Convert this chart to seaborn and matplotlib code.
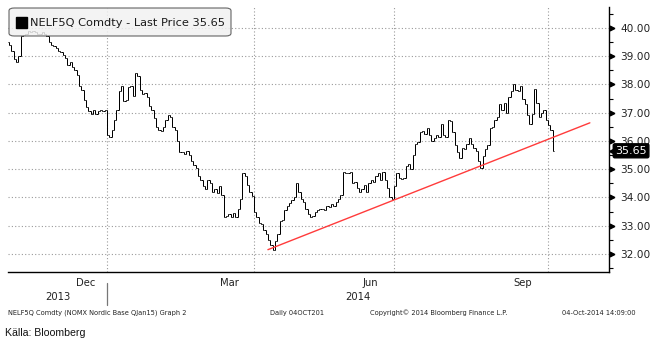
import numpy as np
import pandas as pd
import matplotlib
matplotlib.use("Agg")
import matplotlib.pyplot as plt
import matplotlib.transforms as mtransforms
from matplotlib.patches import FancyBboxPatch, Rectangle
import seaborn as sns

# ---- daily closing prices (EUR/MWh), one list per month ----
close_2013_10 = [39.4, 39.2, 38.9]
close_2013_11 = [38.8, 39.0, 39.7, 39.75, 39.8, 39.9, 39.85, 39.9, 39.85, 39.8, 39.8,
                 39.85, 39.8, 39.7, 39.5, 39.4, 39.35, 39.3, 39.2, 39.15, 39.05]
close_2013_12 = [38.95, 38.7, 38.8, 38.6, 38.5, 38.35, 37.95, 37.8, 37.45, 37.2, 37.05,
                 36.95, 37.1, 36.95, 37.05, 37.1, 37.05, 37.1]
close_2014_01 = [36.2, 36.15, 36.4, 36.75, 37.1, 37.75, 37.95, 37.4, 37.45, 37.9, 37.95,
                 37.6, 38.4, 38.3, 37.8, 37.65, 37.7, 37.55, 37.25, 37.1, 36.8, 36.5]
close_2014_02 = [36.4, 36.35, 36.5, 36.75, 36.9, 36.85, 36.5, 36.4, 36.0, 35.6, 35.6,
                 35.55, 35.65, 35.5, 35.3, 35.15, 35.05, 34.75, 34.6, 34.4]
close_2014_03 = [34.3, 34.6, 34.5, 34.2, 34.3, 34.15, 34.4, 34.1, 33.3, 33.35, 33.4,
                 33.3, 33.45, 33.3, 33.6, 33.95, 34.85, 34.75, 34.45, 34.2, 34.05]
close_2014_04 = [33.5, 33.3, 33.1, 33.05, 32.85, 32.7, 32.5, 32.3, 32.15, 32.45, 32.7,
                 33.15, 33.2, 33.55, 33.7, 33.8, 33.9, 34.0, 34.5, 34.2]
close_2014_05 = [33.95, 33.85, 33.6, 33.4, 33.3, 33.35, 33.5, 33.55, 33.6, 33.6, 33.55,
                 33.7, 33.65, 33.75, 33.7, 33.85, 33.95, 34.1, 34.9, 34.85]
close_2014_06 = [34.85, 34.9, 34.5, 34.55, 34.35, 34.2, 34.3, 34.45, 34.2, 34.5, 34.6,
                 34.55, 34.75, 34.85, 34.6, 34.9, 34.6, 34.35, 34.0, 33.95]
close_2014_07 = [34.4, 34.85, 34.7, 34.65, 34.7, 35.1, 35.2, 35.0, 35.5, 35.9, 35.95,
                 36.3, 36.35, 36.25, 36.45, 36.2, 36.0, 36.1, 36.2, 36.15, 36.6, 36.2, 36.15]
close_2014_08 = [36.75, 36.7, 36.3, 35.85, 35.6, 35.4, 35.75, 35.7, 35.9, 36.1, 35.9,
                 35.75, 35.65, 35.3, 35.05, 35.45, 35.7, 35.85, 36.45, 36.5, 36.75]
close_2014_09 = [36.85, 37.3, 37.1, 37.35, 37.0, 37.55, 37.75, 38.0, 37.8, 37.75, 37.95,
                 37.5, 37.3, 36.9, 36.6, 36.95, 37.85, 37.35, 36.85, 37.0, 37.1, 36.75]
close_2014_10 = [36.55, 36.4, 35.65]
first_open = 39.5

# exchange holidays removed from the weekday calendar
holidays = ["2013-12-24", "2013-12-25", "2013-12-26", "2013-12-31", "2014-01-01",
            "2014-04-18", "2014-04-21", "2014-05-01", "2014-05-29", "2014-06-09"]

# support line drawn on the chart
trend_dates = ["2014-04-09", "2014-10-27"]
trend_values = [32.15, 36.64]

y_ticks = [32, 33, 34, 35, 36, 37, 38, 39, 40]
quarter_months = ["2014-01", "2014-04", "2014-07", "2014-10"]
month_labels = {"2013-12": "Dec", "2014-03": "Mar", "2014-06": "Jun", "2014-09": "Sep"}
last_price = 35.65
ticker = "NELF5Q Comdty"

# ---- trading-day calendar ----
days = pd.bdate_range("2013-10-29", "2014-11-28")
days = days[~days.isin(pd.to_datetime(holidays))]
day_pos = pd.Series(np.arange(len(days)), index=days)

closes = np.array(close_2013_10 + close_2013_11 + close_2013_12 + close_2014_01 +
                  close_2014_02 + close_2014_03 + close_2014_04 + close_2014_05 +
                  close_2014_06 + close_2014_07 + close_2014_08 + close_2014_09 +
                  close_2014_10)
pos = np.arange(len(closes))
opens = np.r_[first_open, closes[:-1]]
highs = np.maximum(opens, closes)
lows = np.minimum(opens, closes)

month_first = day_pos.groupby(days.to_period("M")).first()
month_first = month_first[month_first.index >= pd.Period("2013-11", "M")]

# ---- figure ----
sns.set_style("white")
plt.rcParams["font.family"] = ["DejaVu Sans"]
W, H = 657, 343
fig = plt.figure(figsize=(W / 100, H / 100), dpi=100)
ax = fig.add_axes([8 / W, 1 - 272 / H, (609 - 8) / W, (272 - 7) / H])
ax.set_xlim(-0.4, 257.2)
ax.set_ylim(31.36, 40.74)

grid_kw = dict(color="#9a9a9a", lw=0.8, linestyle=(0, (1, 2)), zorder=0)
for y in y_ticks:
    ax.axhline(y, **grid_kw)
for m in quarter_months:
    ax.axvline(month_first[pd.Period(m, "M")], **grid_kw)

# OHLC bars
bar_kw = dict(color="black", lw=0.72, zorder=3)
ax.vlines(pos, lows, highs, **bar_kw)
ax.hlines(opens, pos - 0.5, pos, **bar_kw)
ax.hlines(closes, pos, pos + 0.5, **bar_kw)

# support line
trend_pos = [day_pos[pd.Timestamp(d)] for d in trend_dates]
sns.lineplot(x=trend_pos, y=trend_values, color="#ff3b3b", lw=1.0, ax=ax, zorder=4)

# spines
for side in ["left", "top"]:
    ax.spines[side].set_visible(False)
for side in ["right", "bottom"]:
    ax.spines[side].set_color("black")
    ax.spines[side].set_linewidth(1.0)

# right price axis
ax.yaxis.tick_right()
ax.set_yticks(y_ticks)
ax.set_yticklabels([f"{v:.2f}" for v in y_ticks], fontsize=7.6, color="#222222")
ax.set_yticks(np.arange(31.5, 41.0, 1.0), minor=True)
ax.tick_params(axis="y", which="major", length=0, pad=8)
ax.tick_params(axis="y", which="minor", length=3, width=0.8, direction="out", color="black")
tri_tr = mtransforms.offset_copy(ax.get_yaxis_transform(), fig=fig, x=2.2, y=0, units="points")
ax.plot(np.ones(len(y_ticks)), y_ticks, ">", ms=3.4, color="black", transform=tri_tr,
        clip_on=False, zorder=5)

# bottom time axis
ax.set_xticks(month_first.values)
ax.set_xticklabels([])
ax.tick_params(axis="x", which="major", length=3, width=0.8, direction="out", color="black")
xtr = ax.get_xaxis_transform()
for m, lab in month_labels.items():
    p = pd.Period(m, "M")
    a = month_first[p]
    b = month_first[p + 1]
    ax.text((a + b) / 2, -0.042, lab, transform=xtr, ha="center", va="center",
            fontsize=7.2, color="#222222")
jan = month_first[pd.Period("2014-01", "M")]
ax.text((ax.get_xlim()[0] + jan) / 2, -0.095, "2013", transform=xtr, ha="center",
        va="center", fontsize=7.2, color="#222222")
ax.text((ax.get_xlim()[1] + jan) / 2, -0.095, "2014", transform=xtr, ha="center",
        va="center", fontsize=7.2, color="#222222")
ax.plot([jan, jan], [-0.04, -0.125], transform=xtr, color="#777777", lw=0.9, clip_on=False)

# last price tag
tag_tr = mtransforms.offset_copy(ax.get_yaxis_transform(), fig=fig, x=4.5, y=0, units="points")
ax.text(1.0, last_price, f"{last_price:.2f}", transform=tag_tr, ha="left", va="center",
        fontsize=8, color="white", zorder=7,
        bbox=dict(boxstyle="round,pad=0.18,rounding_size=0.15", fc="black", ec="black"))
tag_arrow = mtransforms.offset_copy(ax.get_yaxis_transform(), fig=fig, x=2.2, y=0, units="points")
ax.plot([1.0], [last_price], "<", ms=5, color="black", transform=tag_arrow, clip_on=False, zorder=7)

# legend box
box = FancyBboxPatch((9 / W, 1 - 36 / H), 222 / W, 28 / H, transform=fig.transFigure,
                     boxstyle="round,pad=0,rounding_size=0.008", fc="#f1f1f1", ec="#4a4a4a",
                     lw=0.8, alpha=0.85, zorder=10)
fig.patches.append(box)
fig.patches.append(Rectangle((16 / W, 1 - 28 / H), 11 / W, 11 / H, transform=fig.transFigure,
                             fc="black", ec="black", zorder=11))
fig.text(30 / W, 1 - 22.5 / H, f"{ticker} - Last Price {last_price:.2f}", fontsize=8.2,
         color="#1a1a1a", ha="left", va="center", zorder=12)

# footer
foot_kw = dict(fontsize=4.8, color="#222222", va="center", ha="left")
fig.text(8 / W, 1 - 313 / H, f"{ticker} (NOMX Nordic Base QJan15) Graph 2", **foot_kw)
fig.text(270 / W, 1 - 313 / H, "Daily 04OCT201", **foot_kw)
fig.text(370 / W, 1 - 313 / H, "Copyright\u00a9 2014 Bloomberg Finance L.P.", **foot_kw)
fig.text(562 / W, 1 - 313 / H, "04-Oct-2014 14:09:00", **foot_kw)
fig.text(5 / W, 1 - 333 / H, "Källa: Bloomberg", fontsize=7.6, color="#111111",
         family=["Liberation Sans", "DejaVu Sans"], va="center", ha="left")

fig.savefig("out.png", dpi=100, facecolor="white")
